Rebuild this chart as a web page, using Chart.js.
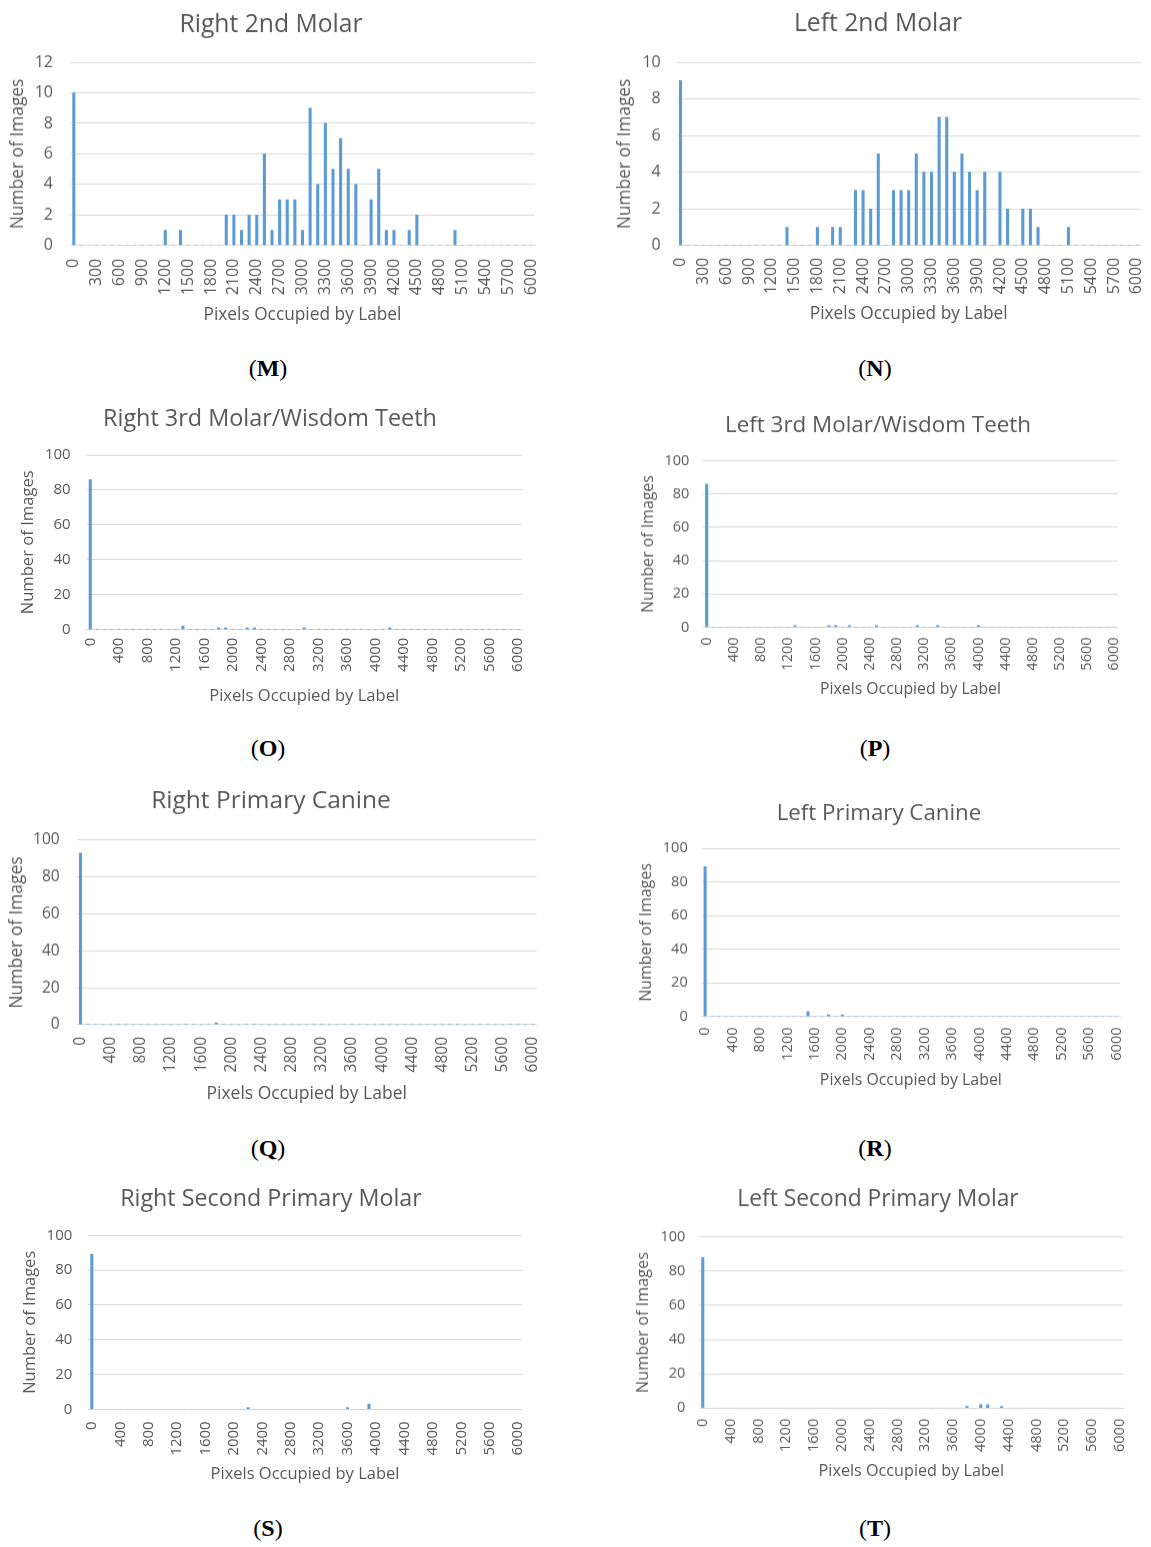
<!DOCTYPE html>
<html>
<head>
<meta charset="utf-8">
<script src="https://cdn.jsdelivr.net/npm/chart.js@4.4.1/dist/chart.umd.min.js"></script>
<style>
  html, body { margin: 0; padding: 0; background: #ffffff; }
  body { width: 1151px; height: 1547px; position: relative; overflow: hidden; }
  .box { position: absolute; }
  .box canvas { display: block; }
  .tag { position: absolute; width: 80px; margin-left: -40px; text-align: center;
         font-family: 'Liberation Serif', 'Times New Roman', serif; font-size: 24px; color: #000;
         line-height: 24px; margin-top: -12px; }
  .tag b { font-weight: bold; }
</style>
</head>
<body>
<script>
// Category bins (pixel counts, step 100)
const categories = ["0","100","200","300","400","500","600","700","800","900","1000","1100","1200","1300","1400","1500","1600","1700","1800","1900","2000","2100","2200","2300","2400","2500","2600","2700","2800","2900","3000","3100","3200","3300","3400","3500","3600","3700","3800","3900","4000","4100","4200","4300","4400","4500","4600","4700","4800","4900","5000","5100","5200","5300","5400","5500","5600","5700","5800","5900","6000"];

// (M) Right 2nd Molar
const mBins   = ["0","1200","1400","2000","2100","2200","2300","2400","2500","2600","2700","2800","2900","3000","3100","3200","3300","3400","3500","3600","3700","3900","4000","4100","4200","4400","4500","5000"];
const mCounts = [10,1,1,2,2,1,2,2,6,1,3,3,3,1,9,4,8,5,7,5,4,3,5,1,1,1,2,1];
// (N) Left 2nd Molar
const nBins   = ["0","1400","1800","2000","2100","2300","2400","2500","2600","2800","2900","3000","3100","3200","3300","3400","3500","3600","3700","3800","3900","4000","4200","4300","4500","4600","4700","5100"];
const nCounts = [9,1,1,1,1,3,3,2,5,3,3,3,5,4,4,7,7,4,5,4,3,4,4,2,2,2,1,1];
// (O) Right 3rd Molar/Wisdom Teeth
const oBins   = ["0","1300","1800","1900","2200","2300","3000","4200"];
const oCounts = [86,2,1,1,1,1,1,1];
// (P) Left 3rd Molar/Wisdom Teeth
const pBins   = ["0","1300","1800","1900","2100","2500","3100","3400","4000"];
const pCounts = [86,1,1,1,1,1,1,1,1];
// (Q) Right Primary Canine
const qBins   = ["0","1800"];
const qCounts = [93,1];
// (R) Left Primary Canine
const rBins   = ["0","1500","1800","2000"];
const rCounts = [89,3,1,1];
// (S) Right Second Primary Molar
const sBins   = ["0","2200","3600","3900"];
const sCounts = [89,1,1,3];
// (T) Left Second Primary Molar
const tBins   = ["0","3800","4000","4100","4300"];
const tCounts = [88,1,2,2,1];

const titles = ["Right 2nd Molar","Left 2nd Molar","Right 3rd Molar/Wisdom Teeth","Left 3rd Molar/Wisdom Teeth",
                "Right Primary Canine","Left Primary Canine","Right Second Primary Molar","Left Second Primary Molar"];
const panelTags = ["M","N","O","P","Q","R","S","T"];
const yTitle = "Number of Images";
const xTitle = "Pixels Occupied by Label";
const yMaxes = [12,10,100,100,100,100,100,100];
const ySteps = [2,2,20,20,20,20,20,20];
const labelEvery = [3,3,4,4,4,4,4,4];

const binSets = [mBins,nBins,oBins,pBins,qBins,rBins,sBins,tBins];
const countSets = [mCounts,nCounts,oCounts,pCounts,qCounts,rCounts,sCounts,tCounts];

const TEXT = '#595959', GRID = '#d9d9d9', BAR = '#5B9BD5', NONE = 'rgba(0,0,0,0)';
const FAMILY = "'Open Sans', sans-serif";
Chart.defaults.font.family = FAMILY;
Chart.defaults.color = TEXT;

// target geometry (page pixels) and font sizes for each panel
// l: canvas left, tX/tY: title centre, pL/pR/pT/pB: plot area, yT: y-title centre x, xT: x-title centre y,
// xg: gap axis->x labels, yg: gap y labels->axis, ft/fa/fk: title / axis-title / tick font sizes
const geo = [
  {l:0,   tX:271, tY:23,     pL:70,    pR:535,    pT:62,     pB:244.7,  yT:18,  xT:313,  xg:13, yg:17, ft:24.7, fa:17.3, fk:16,   gx:268, gy:368},
  {l:606, tX:878, tY:22,     pL:676.7, pR:1140.7, pT:62,     pB:244.7,  yT:625, xT:312,  xg:12, yg:16, ft:24.7, fa:17.3, fk:16,   gx:875, gy:368},
  {l:0,   tX:270, tY:417,    pL:86.7,  pR:521.7,  pT:454.7,  pB:629.3,  yT:28,  xT:695,  xg:8,  yg:16, ft:23.4, fa:16.6, fk:15,   gx:268, gy:748},
  {l:606, tX:878, tY:424,    pL:703.3, pR:1117.7, pT:460.7,  pB:626.7,  yT:648, xT:688,  xg:10, yg:14, ft:22.4, fa:15.8, fk:14.5, gx:875, gy:748},
  {l:0,   tX:271, tY:799,    pL:76.7,  pR:536.7,  pT:840,    pB:1024,   yT:17,  xT:1092, xg:12, yg:17, ft:24.5, fa:17.5, fk:15.5, gx:268, gy:1148},
  {l:606, tX:879, tY:812,    pL:701.7, pR:1120,   pT:848.3,  pB:1016,   yT:646, xT:1079, xg:10.7, yg:14, ft:22.3, fa:15.9, fk:14.5, gx:875, gy:1148},
  {l:0,   tX:271, tY:1197,   pL:88.3,  pR:521.7,  pT:1235,   pB:1409,   yT:30,  xT:1473, xg:12, yg:16, ft:23.3, fa:16.5, fk:15,   gx:268, gy:1528},
  {l:606, tX:878, tY:1198.5, pL:699.3, pR:1123.3, pT:1237.3, pB:1407.7, yT:643, xT:1470, xg:10.6, yg:14, ft:22.8, fa:16.2, fk:14.5, gx:875, gy:1528}
];

const mctx = document.createElement('canvas').getContext('2d');
function textW(s, size) { mctx.font = size + 'px ' + FAMILY; return mctx.measureText(s).width; }

function fullSeries(bins, counts) {
  const data = categories.map(() => 0);
  bins.forEach((b, i) => { data[categories.indexOf(b)] = counts[i]; });
  return data;
}

geo.forEach((G, k) => {
  // canvas geometry
  const w = 2 * (G.tX - G.l);
  const top = G.tY - 0.528 * G.ft;
  const bottom = G.xT + 0.672 * G.fa;
  const h = bottom - top;
  const titlePadBottom = G.pT - top - 1.2 * G.ft;
  // x scale
  const xLabW = Math.max(...categories.filter((c, i) => i % labelEvery[k] === 0).map(c => textW(c, G.fk)));
  const xTitlePadTop = (bottom - G.pB) - 1.2 * G.fa - xLabW - G.xg;
  // y scale
  const yTicksTxt = [];
  for (let v = 0; v <= yMaxes[k]; v += ySteps[k]) yTicksTxt.push(String(v));
  const yLabW = Math.max(...yTicksTxt.map(s => textW(s, G.fk)));
  const yTitlePadTop = G.yT - G.l - 0.6 * G.fa;
  const yTitlePadBottom = (G.pL - G.l) - yTitlePadTop - 1.2 * G.fa - yLabW - G.yg;
  const rightGap = (G.l + w) - G.pR;

  const div = document.createElement('div');
  div.className = 'box';
  div.style.left = G.l + 'px'; div.style.top = top + 'px';
  div.style.width = w + 'px'; div.style.height = h + 'px';
  const cv = document.createElement('canvas');
  div.appendChild(cv);
  document.body.appendChild(div);

  const tag = document.createElement('div');
  tag.className = 'tag';
  tag.style.left = G.gx + 'px'; tag.style.top = G.gy + 'px';
  tag.innerHTML = '(<b>' + panelTags[k] + '</b>)';
  document.body.appendChild(tag);

  new Chart(cv, {
    type: 'bar',
    data: {
      labels: categories,
      datasets: [{ data: fullSeries(binSets[k], countSets[k]), backgroundColor: BAR, borderWidth: 0,
                   barThickness: 2.4 }]
    },
    options: {
      responsive: true, maintainAspectRatio: false, animation: false,
      layout: { padding: 0 },
      plugins: {
        legend: { display: false }, tooltip: { enabled: false },
        title: { display: true, text: titles[k], color: TEXT,
                 font: { size: G.ft, weight: 'normal' }, padding: { top: 0, bottom: titlePadBottom } }
      },
      scales: {
        x: {
          grid: { display: true, drawOnChartArea: false, drawTicks: true, tickLength: G.xg, tickColor: NONE },
          border: { display: true, color: GRID, width: 1 },
          ticks: { autoSkip: false, minRotation: 90, maxRotation: 90, padding: 0, color: TEXT,
                   font: { size: G.fk },
                   callback: function(v, i) { return i % labelEvery[k] === 0 ? this.getLabelForValue(v) : ''; } },
          title: { display: true, text: xTitle, color: TEXT, font: { size: G.fa },
                   padding: { top: xTitlePadTop, bottom: 0 } },
          afterFit: function(s) { s.paddingLeft = 0; s.paddingRight = rightGap; }
        },
        y: {
          min: 0, max: yMaxes[k],
          grid: { color: GRID, drawTicks: true, tickLength: G.yg, tickColor: NONE, lineWidth: 1 },
          border: { display: false },
          ticks: { stepSize: ySteps[k], padding: 0, color: TEXT, font: { size: G.fk } },
          title: { display: true, text: yTitle, color: TEXT, font: { size: G.fa },
                   padding: { top: yTitlePadTop, bottom: yTitlePadBottom } }
        }
      }
    }
  });
});
</script>
</body>
</html>
